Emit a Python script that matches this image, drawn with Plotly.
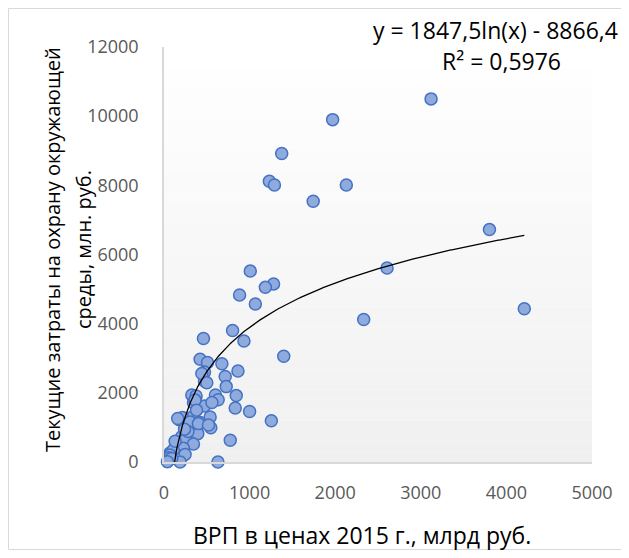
import numpy as np
import plotly.graph_objects as go

# ВРП в ценах 2015 г., млрд руб. (x) и текущие затраты на охрану окружающей среды, млн руб. (y)
grp = [3120, 1970, 1375, 1231, 1290, 2130, 1743, 3802, 2606, 1008, 1280, 1184, 883, 1067,
       4209, 2333, 801, 461, 934, 1399, 422, 508, 676, 473, 864, 715, 473, 727, 325, 375,
       601, 844, 633, 344, 473, 832, 1000, 539, 336, 179, 215, 422, 1254, 297, 547, 395,
       207, 254, 774, 344, 141, 226, 246, 70, 51, 188, 630, 442, 500, 363, 305, 402, 520,
       160, 109, 70, 60, 45, 90, 130, 280, 380, 560, 240, 40]
costs = [10500, 9900, 8920, 8120, 8010, 8010, 7540, 6720, 5610, 5520, 5150, 5050, 4830, 4570,
         4430, 4120, 3800, 3570, 3500, 3060, 2970, 2880, 2840, 2600, 2630, 2470, 2340, 2180, 1940, 1910,
         1940, 1920, 1800, 1710, 1620, 1560, 1460, 1300, 1310, 1220, 1290, 1140, 1190, 1060, 990, 820,
         730, 660, 630, 520, 460, 400, 220, 260, 60, 0, 0, 2560, 2290, 1790, 1160, 1110, 1070,
         1260, 350, 200, 120, 30, 100, 600, 880, 1500, 1720, 950, 10]

x_ticks = [0, 1000, 2000, 3000, 4000, 5000]
y_ticks = [0, 2000, 4000, 6000, 8000, 10000, 12000]

# Логарифмическая линия тренда (коэффициенты из подписи)
coef_a = 1847.5
coef_b = -8866.4
equation_line1 = "y = 1847,5ln(x) - 8866,4"
equation_line2 = "R² = 0,5976"

x_label = "ВРП в ценах 2015 г., млрд руб."
y_label_line1 = "Текущие затраты на охрану окружающей"
y_label_line2 = "среды, млн. руб."

xt = np.linspace(min(grp), max(grp), 400)
yt = coef_a * np.log(xt) + coef_b

fig = go.Figure()
fig.add_trace(go.Scatter(x=grp, y=costs, mode="markers",
                         marker=dict(size=12, color="#8faadc",
                                     line=dict(color="#4472c4", width=1.5)),
                         cliponaxis=False, showlegend=False))
fig.add_trace(go.Scatter(x=xt, y=yt, mode="lines",
                         line=dict(color="black", width=1.3), showlegend=False))

# page has an 8px body margin: figure coordinates = page coordinates - 8
OFF = 8
FW, FH = 621, 550
L, R, T, B = 164 - OFF, 592 - OFF, 47 - OFF, 462 - OFF
W, H = R - L, B - T


def px(x):
    return (x - OFF - L) / W


def py(y):
    return (B - (y - OFF)) / H


# gradient plot background
shapes = []
n = 40
for i in range(n):
    t = i / (n - 1)
    c = int(round(255 - t * (255 - 240)))
    shapes.append(dict(type="rect", xref="x domain", yref="y domain",
                       x0=0, x1=1, y0=1 - (i + 1) / n, y1=1 - i / n,
                       fillcolor=f"rgb({c},{c},{c})", line=dict(width=0), layer="below"))
# chart outer border
shapes.append(dict(type="rect", xref="paper", yref="paper",
                   x0=px(8.5), x1=px(628.5), y0=py(549.5), y1=py(8.5),
                   line=dict(color="#d9d9d9", width=1), fillcolor="rgba(0,0,0,0)", layer="below"))

font_family = "Open Sans, Noto Sans, sans-serif"
fig.update_layout(
    width=FW, height=FH,
    margin=dict(l=L, r=FW - R, t=T, b=FH - B, autoexpand=False),
    paper_bgcolor="white", plot_bgcolor="white",
    shapes=shapes,
    font=dict(family=font_family),
    xaxis=dict(range=[0, 5000], tickvals=x_ticks, tickformat="d", showgrid=False, zeroline=False,
               showline=True, linecolor="#d9d9d9", linewidth=1.5,
               ticks="outside", ticklen=14, tickcolor="rgba(0,0,0,0)",
               tickfont=dict(size=18, color="#595959")),
    yaxis=dict(range=[0, 12000], tickvals=y_ticks, tickformat="d", showgrid=False, zeroline=False,
               showline=True, linecolor="#d9d9d9", linewidth=1.5,
               ticks="outside", ticklen=20, tickcolor="rgba(0,0,0,0)",
               tickfont=dict(size=18, color="#595959")),
    annotations=[
        dict(text=x_label, xref="paper", yref="paper",
             x=px(362), y=py(535), xanchor="center", yanchor="middle",
             showarrow=False, font=dict(size=23, color="black")),
        dict(text=y_label_line1, xref="paper", yref="paper", textangle=-90,
             x=px(52), y=py(250), xanchor="center", yanchor="middle",
             showarrow=False, font=dict(size=20, color="black")),
        dict(text=y_label_line2, xref="paper", yref="paper", textangle=-90,
             x=px(83), y=py(250), xanchor="center", yanchor="middle",
             showarrow=False, font=dict(size=20, color="black")),
        dict(text=equation_line1, xref="paper", yref="paper",
             x=px(495), y=py(30), xanchor="center", yanchor="middle",
             showarrow=False, font=dict(size=23, color="black")),
        dict(text=equation_line2, xref="paper", yref="paper",
             x=px(501), y=py(61), xanchor="center", yanchor="middle",
             showarrow=False, font=dict(size=23, color="black")),
    ],
)
fig.write_html("out.html")
